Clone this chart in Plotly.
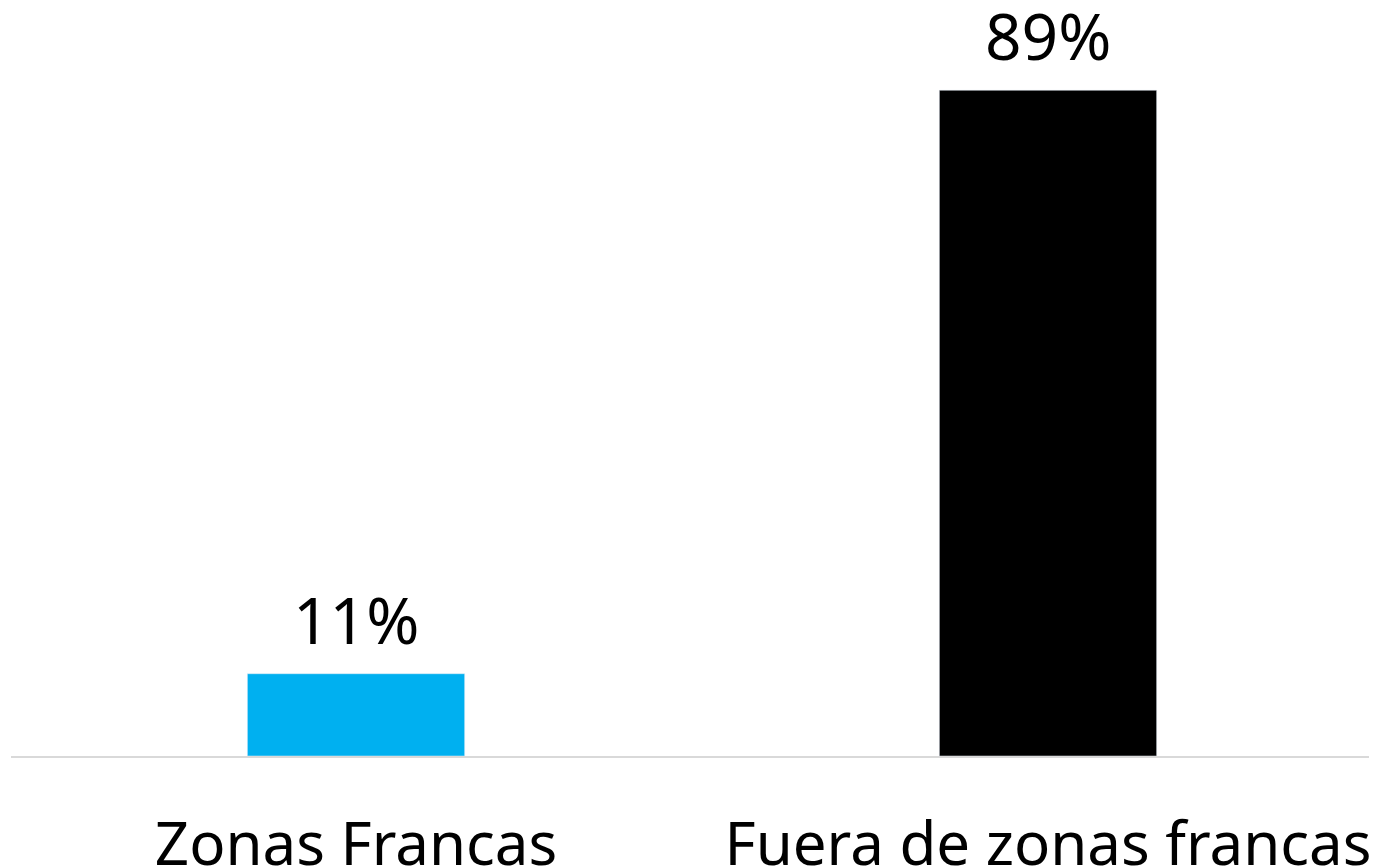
import plotly.graph_objects as go

categories = ["Zonas Francas", "Fuera de zonas francas"]
values = [0.11, 0.89]
labels = ["11%", "89%"]
colors = ["#00B0F0", "#000000"]

FONT = "Noto Sans"

fig = go.Figure()
fig.add_trace(go.Bar(
    x=categories, y=values, marker_color=colors, width=0.314,
    hoverinfo="skip",
))
for c, v, t in zip(categories, values, labels):
    fig.add_annotation(x=c, y=v, text=t, showarrow=False, yanchor="bottom",
                       yshift=9, font=dict(family=FONT, size=64, color="#000000"))

fig.update_layout(
    width=1377, height=868,
    margin=dict(l=3, r=0, t=0, b=120, autoexpand=False),
    paper_bgcolor="white", plot_bgcolor="white",
    showlegend=False,
    font=dict(family=FONT, size=60, color="#000000"),
)
fig.update_xaxes(range=[-0.4986, 1.487], showline=True, linecolor="#D9D9D9", linewidth=2,
                 showgrid=False, ticks="", ticklabelstandoff=35, automargin=False,
                 tickfont=dict(family=FONT, size=60, color="#000000"))
fig.update_yaxes(range=[0, 1.0], visible=False, automargin=False)

fig.write_html("out.html")
